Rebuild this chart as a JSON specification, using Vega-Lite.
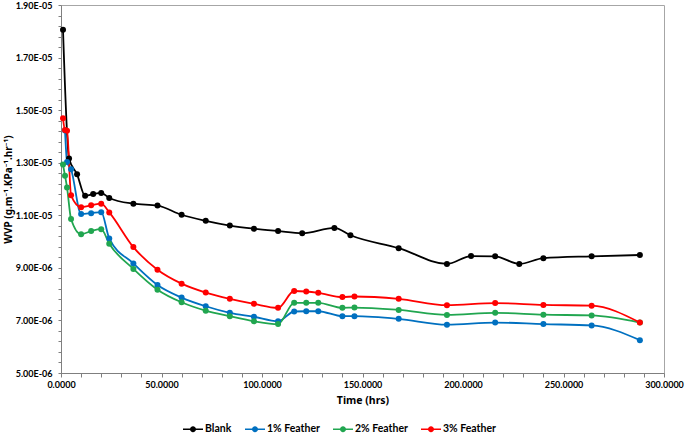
{
  "$schema": "https://vega.github.io/schema/vega-lite/v6.json",
  "width": 603,
  "height": 368,
  "autosize": "none",
  "padding": {"left": 61, "top": 5, "right": 21, "bottom": 62},
  "background": "white",
  "config": {
    "font": "Lato",
    "view": {"stroke": "#a6a6a6", "strokeWidth": 1},
    "axis": {"grid": false, "domainColor": "#7f7f7f", "tickColor": "#7f7f7f", "labelFont": "Lato", "labelFontWeight": "bold", "labelFontSize": 9, "labelColor": "#000000", "titleFont": "Noto Sans", "titleFontWeight": "bold", "titleFontSize": 10, "titleColor": "#000000"}
  },
  "datasets": {
    "wvp": [
      {"time": 1, "series": "Blank", "wvp": 1.806e-5},
      {"time": 4, "series": "Blank", "wvp": 1.316e-5},
      {"time": 8, "series": "Blank", "wvp": 1.256e-5},
      {"time": 12, "series": "Blank", "wvp": 1.174e-5},
      {"time": 16, "series": "Blank", "wvp": 1.181e-5},
      {"time": 20, "series": "Blank", "wvp": 1.185e-5},
      {"time": 24, "series": "Blank", "wvp": 1.166e-5},
      {"time": 36, "series": "Blank", "wvp": 1.144e-5},
      {"time": 48, "series": "Blank", "wvp": 1.137e-5},
      {"time": 60, "series": "Blank", "wvp": 1.102e-5},
      {"time": 72, "series": "Blank", "wvp": 1.079e-5},
      {"time": 84, "series": "Blank", "wvp": 1.061e-5},
      {"time": 96, "series": "Blank", "wvp": 1.049e-5},
      {"time": 108, "series": "Blank", "wvp": 1.040e-5},
      {"time": 120, "series": "Blank", "wvp": 1.032e-5},
      {"time": 136, "series": "Blank", "wvp": 1.052e-5},
      {"time": 144, "series": "Blank", "wvp": 1.024e-5},
      {"time": 168, "series": "Blank", "wvp": 9.75e-6},
      {"time": 192, "series": "Blank", "wvp": 9.15e-6},
      {"time": 204, "series": "Blank", "wvp": 9.45e-6},
      {"time": 216, "series": "Blank", "wvp": 9.44e-6},
      {"time": 228, "series": "Blank", "wvp": 9.15e-6},
      {"time": 240, "series": "Blank", "wvp": 9.37e-6},
      {"time": 264, "series": "Blank", "wvp": 9.44e-6},
      {"time": 288, "series": "Blank", "wvp": 9.49e-6},

      {"time": 2, "series": "1% Feather", "wvp": 1.423e-5},
      {"time": 3, "series": "1% Feather", "wvp": 1.303e-5},
      {"time": 5, "series": "1% Feather", "wvp": 1.275e-5},
      {"time": 10, "series": "1% Feather", "wvp": 1.105e-5},
      {"time": 15, "series": "1% Feather", "wvp": 1.108e-5},
      {"time": 20, "series": "1% Feather", "wvp": 1.112e-5},
      {"time": 24, "series": "1% Feather", "wvp": 1.012e-5},
      {"time": 36, "series": "1% Feather", "wvp": 9.17e-6},
      {"time": 48, "series": "1% Feather", "wvp": 8.35e-6},
      {"time": 60, "series": "1% Feather", "wvp": 7.87e-6},
      {"time": 72, "series": "1% Feather", "wvp": 7.54e-6},
      {"time": 84, "series": "1% Feather", "wvp": 7.29e-6},
      {"time": 96, "series": "1% Feather", "wvp": 7.14e-6},
      {"time": 108, "series": "1% Feather", "wvp": 6.97e-6},
      {"time": 116, "series": "1% Feather", "wvp": 7.34e-6},
      {"time": 122, "series": "1% Feather", "wvp": 7.35e-6},
      {"time": 128, "series": "1% Feather", "wvp": 7.35e-6},
      {"time": 140, "series": "1% Feather", "wvp": 7.16e-6},
      {"time": 146, "series": "1% Feather", "wvp": 7.16e-6},
      {"time": 168, "series": "1% Feather", "wvp": 7.06e-6},
      {"time": 192, "series": "1% Feather", "wvp": 6.84e-6},
      {"time": 216, "series": "1% Feather", "wvp": 6.92e-6},
      {"time": 240, "series": "1% Feather", "wvp": 6.86e-6},
      {"time": 264, "series": "1% Feather", "wvp": 6.81e-6},
      {"time": 288, "series": "1% Feather", "wvp": 6.25e-6},

      {"time": 1, "series": "2% Feather", "wvp": 1.293e-5},
      {"time": 2, "series": "2% Feather", "wvp": 1.250e-5},
      {"time": 3, "series": "2% Feather", "wvp": 1.206e-5},
      {"time": 5, "series": "2% Feather", "wvp": 1.086e-5},
      {"time": 10, "series": "2% Feather", "wvp": 1.028e-5},
      {"time": 15, "series": "2% Feather", "wvp": 1.040e-5},
      {"time": 20, "series": "2% Feather", "wvp": 1.047e-5},
      {"time": 24, "series": "2% Feather", "wvp": 9.92e-6},
      {"time": 36, "series": "2% Feather", "wvp": 8.96e-6},
      {"time": 48, "series": "2% Feather", "wvp": 8.17e-6},
      {"time": 60, "series": "2% Feather", "wvp": 7.69e-6},
      {"time": 72, "series": "2% Feather", "wvp": 7.37e-6},
      {"time": 84, "series": "2% Feather", "wvp": 7.16e-6},
      {"time": 96, "series": "2% Feather", "wvp": 6.97e-6},
      {"time": 108, "series": "2% Feather", "wvp": 6.86e-6},
      {"time": 116, "series": "2% Feather", "wvp": 7.67e-6},
      {"time": 122, "series": "2% Feather", "wvp": 7.67e-6},
      {"time": 128, "series": "2% Feather", "wvp": 7.67e-6},
      {"time": 140, "series": "2% Feather", "wvp": 7.48e-6},
      {"time": 146, "series": "2% Feather", "wvp": 7.49e-6},
      {"time": 168, "series": "2% Feather", "wvp": 7.40e-6},
      {"time": 192, "series": "2% Feather", "wvp": 7.21e-6},
      {"time": 216, "series": "2% Feather", "wvp": 7.29e-6},
      {"time": 240, "series": "2% Feather", "wvp": 7.22e-6},
      {"time": 264, "series": "2% Feather", "wvp": 7.19e-6},
      {"time": 288, "series": "2% Feather", "wvp": 6.92e-6},

      {"time": 1, "series": "3% Feather", "wvp": 1.469e-5},
      {"time": 2, "series": "3% Feather", "wvp": 1.424e-5},
      {"time": 3, "series": "3% Feather", "wvp": 1.422e-5},
      {"time": 5, "series": "3% Feather", "wvp": 1.176e-5},
      {"time": 10, "series": "3% Feather", "wvp": 1.131e-5},
      {"time": 15, "series": "3% Feather", "wvp": 1.138e-5},
      {"time": 20, "series": "3% Feather", "wvp": 1.144e-5},
      {"time": 24, "series": "3% Feather", "wvp": 1.111e-5},
      {"time": 36, "series": "3% Feather", "wvp": 9.79e-6},
      {"time": 48, "series": "3% Feather", "wvp": 8.93e-6},
      {"time": 60, "series": "3% Feather", "wvp": 8.40e-6},
      {"time": 72, "series": "3% Feather", "wvp": 8.06e-6},
      {"time": 84, "series": "3% Feather", "wvp": 7.82e-6},
      {"time": 96, "series": "3% Feather", "wvp": 7.63e-6},
      {"time": 108, "series": "3% Feather", "wvp": 7.48e-6},
      {"time": 116, "series": "3% Feather", "wvp": 8.12e-6},
      {"time": 122, "series": "3% Feather", "wvp": 8.10e-6},
      {"time": 128, "series": "3% Feather", "wvp": 8.05e-6},
      {"time": 140, "series": "3% Feather", "wvp": 7.89e-6},
      {"time": 146, "series": "3% Feather", "wvp": 7.91e-6},
      {"time": 168, "series": "3% Feather", "wvp": 7.82e-6},
      {"time": 192, "series": "3% Feather", "wvp": 7.58e-6},
      {"time": 216, "series": "3% Feather", "wvp": 7.66e-6},
      {"time": 240, "series": "3% Feather", "wvp": 7.59e-6},
      {"time": 264, "series": "3% Feather", "wvp": 7.56e-6},
      {"time": 288, "series": "3% Feather", "wvp": 6.92e-6}
    ]
  },
  "data": {"name": "wvp"},
  "encoding": {
    "x": {
      "field": "time", "type": "quantitative",
      "scale": {"domain": [0, 300], "nice": false, "zero": true},
      "axis": {
        "title": "Time (hrs)",
        "values": [0, 10, 20, 30, 40, 50, 60, 70, 80, 90, 100, 110, 120, 130, 140, 150, 160, 170, 180, 190, 200, 210, 220, 230, 240, 250, 260, 270, 280, 290, 300],
        "labelExpr": "datum.value % 50 == 0 ? format(datum.value, '.4f') : ''",
        "tickSize": 4,
        "labelPadding": 3,
        "titlePadding": 6,
        "titleFontSize": 10.5,
        "labelFlush": false
      }
    },
    "y": {
      "field": "wvp", "type": "quantitative",
      "scale": {"domain": [5e-6, 1.9e-5], "nice": false, "zero": false},
      "axis": {
        "title": "WVP (g.m⁻¹.KPa⁻¹.hr⁻¹)",
        "titleX": -53,
        "titleY": 184,
        "titleAngle": -90,
        "titleAlign": "center",
        "titleBaseline": "middle",
        "values": [5e-6, 5.4e-6, 5.8e-6, 6.2e-6, 6.6e-6, 7e-6, 7.4e-6, 7.8e-6, 8.2e-6, 8.6e-6, 9e-6, 9.4e-6, 9.8e-6, 1.02e-5, 1.06e-5, 1.1e-5, 1.14e-5, 1.18e-5, 1.22e-5, 1.26e-5, 1.3e-5, 1.34e-5, 1.38e-5, 1.42e-5, 1.46e-5, 1.5e-5, 1.54e-5, 1.58e-5, 1.62e-5, 1.66e-5, 1.7e-5, 1.74e-5, 1.78e-5, 1.82e-5, 1.86e-5, 1.9e-5],
        "labelExpr": "round(datum.value * 1e7) % 20 == 10 ? replace(upper(format(datum.value, '.2e')), 'E-', 'E-0') : ''",
        "tickSize": 3,
        "labelPadding": 6,
        "labelFlush": false
      }
    },
    "color": {
      "field": "series", "type": "nominal",
      "sort": ["Blank", "1% Feather", "2% Feather", "3% Feather"],
      "scale": {"domain": ["Blank", "1% Feather", "2% Feather", "3% Feather"], "range": ["#000000", "#0070c0", "#21a650", "#ff0000"]},
      "legend": {
        "title": null,
        "orient": "none",
        "direction": "horizontal",
        "legendX": 122,
        "legendY": 414,
        "symbolType": "M-1,-0.08L1,-0.08L1,0.08L-1,0.08Z M0.3,0 A0.3,0.3 0 1,1 -0.3,0 A0.3,0.3 0 1,1 0.3,0 Z",
        "symbolSize": 400,
        "symbolStrokeWidth": 0,
        "symbolOpacity": 1,
        "labelFont": "Lato",
        "labelFontWeight": "bold",
        "labelFontSize": 10.5,
        "labelColor": "#000000",
        "labelOffset": 2,
        "columnPadding": 13
      }
    }
  },
  "layer": [
    {
      "mark": {"type": "line", "interpolate": "monotone", "strokeWidth": 1.8}
    },
    {
      "mark": {"type": "point", "filled": true, "size": 36, "opacity": 1}
    }
  ]
}
